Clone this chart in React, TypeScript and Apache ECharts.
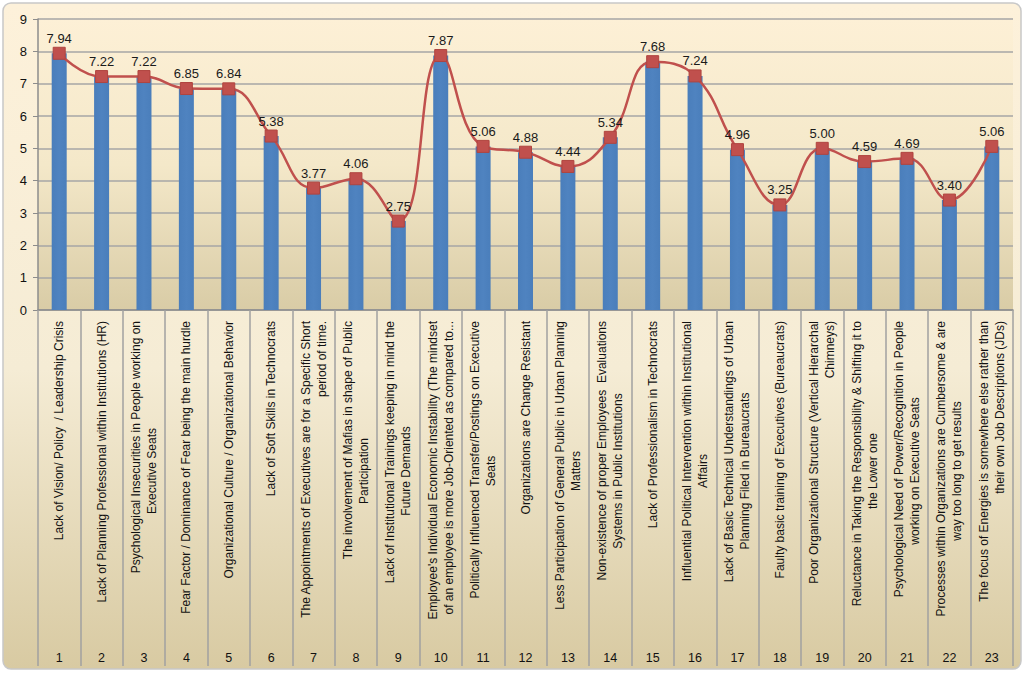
import React, { useEffect, useRef } from "react";
import * as echarts from "echarts";

const categories: string[] = [
  "Lack of Vision/ Policy  / Leadership Crisis",
  "Lack of Planning Professional within Institutions (HR)",
  "Psychological Insecurities in People working on\nExecutive Seats",
  "Fear Factor / Dominance of Fear being the main hurdle",
  "Organizational Culture / Organizational Behavior",
  "Lack of Soft Skills in Technocrats",
  "The Appointments of Executives are for a Specific Short\nperiod of time.",
  "The involvement of Mafias in shape of Public\nParticipation",
  "Lack of Institutional Trainings keeping in mind the\nFuture Demands",
  "Employee's Individual Economic Instability (The mindset\nof an employee is more Job-Oriented as compared to...",
  "Politically Influenced Transfer/Postings on Executive\nSeats",
  "Organizations are Change Resistant",
  "Less Participation of General Public in Urban Planning\nMatters",
  "Non-existence of proper Employees  Evaluations\nSystems in Public Institutions",
  "Lack of Professionalism in Technocrats",
  "Influential Political Intervention within Institutional\nAffairs",
  "Lack of Basic Technical Understandings of Urban\nPlanning Filed in Bureaucrats",
  "Faulty basic training of Executives (Bureaucrats)",
  "Poor Organizational Structure (Vertical Hierarchal\nChimneys)",
  "Reluctance in Taking the Responsibility & Shifting it to\nthe Lower one",
  "Psychological Need of Power/Recognition in People\nworking on Executive Seats",
  "Processes within Organizations are Cumbersome & are\nway too long to get results",
  "The focus of Energies is somewhere else rather than\ntheir own Job Descriptions (JDs)",
];

// how the second line of each wrapped label sits in the reference
const secondLineAlign: string[] = [
  "c", "c", "c", "c", "c", "c", "r", "c", "c", "r", "c", "c",
  "c", "c", "c", "c", "c", "c", "r", "c", "c", "c", "r",
];

const numbers: string[] = [
  "1", "2", "3", "4", "5", "6", "7", "8", "9", "10", "11", "12",
  "13", "14", "15", "16", "17", "18", "19", "20", "21", "22", "23",
];

const values: number[] = [
  7.94, 7.22, 7.22, 6.85, 6.84, 5.38, 3.77, 4.06, 2.75, 7.87, 5.06, 4.88,
  4.44, 5.34, 7.68, 7.24, 4.96, 3.25, 5.0, 4.59, 4.69, 3.4, 5.06,
];

const yTicks = { min: 0, max: 9, interval: 1 };

export default function App() {
  const ref = useRef<HTMLDivElement>(null);

  useEffect(() => {
    if (!ref.current) return;
    const chart = echarts.init(ref.current, undefined, { renderer: "svg" });
    const font = "'Liberation Sans', Arial, sans-serif";
    const fs = 12;
    chart.setOption({
      animation: false,
      backgroundColor: "#ffffff",
      textStyle: { fontFamily: font },
      graphic: [
        {
          type: "rect",
          z: -10,
          silent: true,
          shape: { x: 3, y: 3, width: 1018, height: 666, r: 8 },
          style: {
            fill: new echarts.graphic.LinearGradient(0, 0, 0, 1, [
              { offset: 0, color: "#FDF1DA" },
              { offset: 0.55, color: "#F5ECD5" },
              { offset: 1, color: "#D8CAA2" },
            ]),
            stroke: "#C8C8C8",
            lineWidth: 1.5,
          },
        },
      ],
      grid: {
        left: 38,
        right: 13,
        top: 19,
        height: 291,
        show: true,
        borderWidth: 0,
        backgroundColor: new echarts.graphic.LinearGradient(0, 0, 0, 1, [
          { offset: 0, color: "#FDF0D6" },
          { offset: 0.5, color: "#F4E8C9" },
          { offset: 1, color: "#D9CCA6" },
        ]),
      },
      xAxis: [
        {
          type: "category",
          data: categories,
          position: "bottom",
          axisLine: { show: true, lineStyle: { color: "#8C8C8C", width: 1.5 } },
          axisTick: { show: true, length: 356, lineStyle: { color: "#A0A0A0", width: 1.5 } },
          axisLabel: {
            interval: 0,
            rotate: 90,
            margin: 11,
            width: 300,
            overflow: "none",
            fontSize: fs,
            lineHeight: 16,
            color: "#111",
            fontFamily: font,
            formatter: (v: string, i: number) => {
              const parts = v.split("\n");
              if (parts.length < 2) return `{r|${parts[0]}}`;
              return `{r|${parts[0]}}\n{${secondLineAlign[i]}|${parts[1]}}`;
            },
            rich: {
              c: { fontSize: fs, lineHeight: 16, color: "#111", fontFamily: font, align: "center" },
              r: { fontSize: fs, lineHeight: 16, color: "#111", fontFamily: font, align: "right" },
            },
          },
        },
        {
          type: "category",
          data: numbers,
          position: "bottom",
          offset: 333,
          axisLine: { show: false },
          axisTick: { show: false },
          axisLabel: { interval: 0, fontSize: 12.5, color: "#111", margin: 8, fontFamily: font },
        },
      ],
      yAxis: {
        type: "value",
        min: yTicks.min,
        max: yTicks.max,
        interval: yTicks.interval,
        axisLine: { show: true, lineStyle: { color: "#8C8C8C", width: 1.5 } },
        axisTick: { show: true, length: 5, lineStyle: { color: "#8C8C8C" } },
        axisLabel: { fontSize: 13, color: "#111", margin: 11, fontFamily: font },
        splitLine: { show: true, lineStyle: { color: "#A6A6A6", width: 1.5 } },
      },
      series: [
        {
          type: "bar",
          data: values,
          barWidth: 15,
          itemStyle: {
            color: new echarts.graphic.LinearGradient(0, 0, 1, 0, [
              { offset: 0, color: "#4A7EBB" },
              { offset: 0.5, color: "#4F83C0" },
              { offset: 1, color: "#4A7EBB" },
            ]),
          },
        },
        {
          type: "line",
          data: values,
          smooth: 0.45,
          symbol: "rect",
          symbolSize: 12,
          lineStyle: { color: "#C0504D", width: 2.5 },
          itemStyle: { color: "#C0504D", borderColor: "#B0443F", borderWidth: 1 },
          label: {
            show: true,
            position: "top",
            distance: 2,
            fontSize: 13,
            color: "#1A1A1A",
            fontFamily: font,
            formatter: (p: any) => Number(p.value).toFixed(2),
          },
          z: 5,
        },
      ],
    });
    return () => chart.dispose();
  }, []);

  return (
    <div
      ref={ref}
      style={{ position: "fixed", left: 0, top: 0, width: 1026, height: 677 }}
    />
  );
}
